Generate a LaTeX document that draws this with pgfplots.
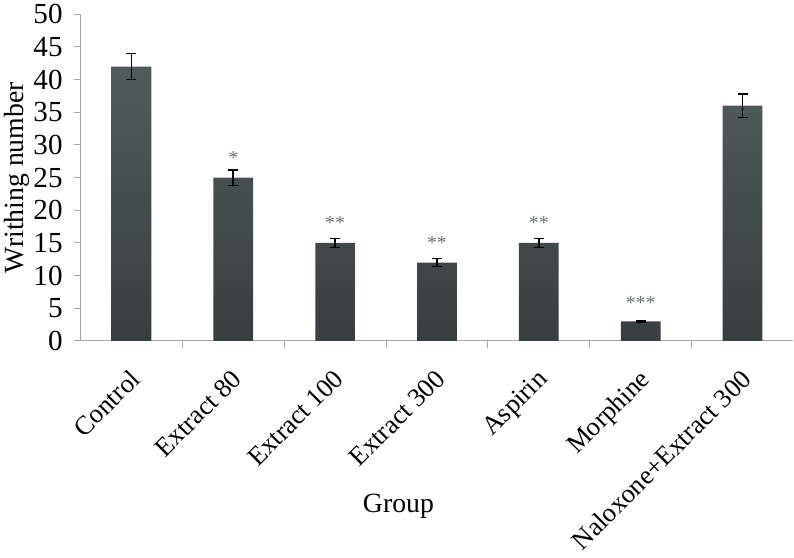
\documentclass[border=0pt]{standalone}
\usepackage{pgfplots}
\pgfplotsset{compat=1.18}
\usepackage{fontspec}
\setmainfont{Liberation Serif}

\definecolor{bartop}{RGB}{80,92,92}
\definecolor{barbottom}{RGB}{56,62,63}
\definecolor{axisgray}{RGB}{166,166,166}
\definecolor{stargray}{RGB}{105,115,115}

\begin{document}
\begin{tikzpicture}
\begin{axis}[
  scale only axis,
  width=539pt, height=247pt,
  xmin=-0.5, xmax=6.5,
  ymin=0, ymax=50,
  ytick={0,5,...,50},
  axis x line=bottom, axis y line=left,
  axis line style={axisgray, line width=0.8pt, -},
  tick style={axisgray, line width=0.8pt},
  tick align=outside,
  major tick length=5pt,
  xtick={0,...,6},
  xticklabels={Control, Extract 80, Extract 100, Extract 300, Aspirin, Morphine, Naloxone+Extract 300},
  xtick style={draw=none},
  extra x ticks={0.5,1.5,...,5.5},
  extra x tick labels={},
  extra x tick style={xtick style={draw=axisgray}},
  xticklabel style={rotate=45, anchor=north east, font=\fontsize{20}{24}\selectfont, yshift=-6pt, xshift=-9pt},
  yticklabel style={font=\fontsize{22}{24}\selectfont, /pgf/number format/assume math mode=true, xshift=-5pt},
  ylabel={Writhing number},
  xlabel={Group},
  label style={font=\fontsize{21}{24}\selectfont},
  xlabel style={at={(axis description cs:0.446,0)}, anchor=center, yshift=-125pt},
  ylabel style={at={(axis description cs:-0.089,0.5)}, anchor=center},
  clip=false,
]
\addplot[ybar, bar width=30pt, bar shift=0pt, draw=none, top color=bartop, bottom color=barbottom,
  error bars/.cd, y dir=both, y explicit,
  error bar style={black, line width=1.2pt},
  error mark options={rotate=90, mark size=3.8pt, black, line width=1.2pt}]
  table[x=x, y=y, y error=e] {
x y e
0 42 2
1 25 1.2
2 15 0.7
3 12 0.6
4 15 0.7
5 3 0.1
6 36 1.8
};
\addplot[draw=none, mark=none, nodes near coords={\pgfplotspointmeta},
  nodes near coords align={center},
  every node near coord/.append style={font=\fontsize{15}{16}\selectfont, text=stargray},
  point meta=explicit symbolic]
  table[x=x, y=y, meta=s] {
x y s
1 28.0 *
2 18.0 **
3 15.0 **
4 18.0 **
5 5.8 ***
};
\end{axis}
\end{tikzpicture}
\end{document}
